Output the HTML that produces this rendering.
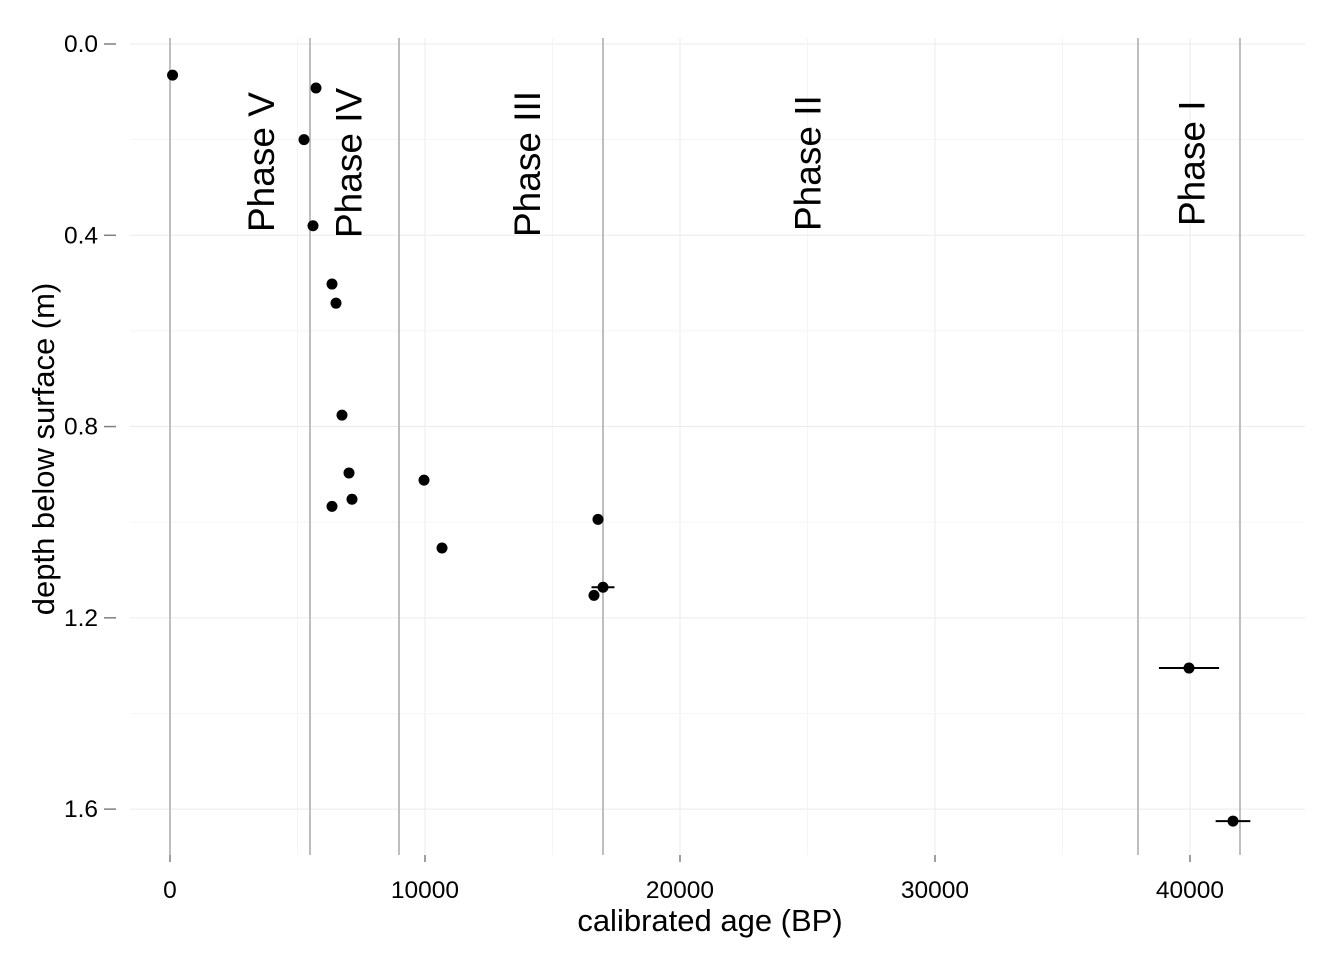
<!DOCTYPE html>
<html><head><meta charset="utf-8"><style>
body{margin:0;background:#fff}
svg{display:block;font-family:"Liberation Sans",sans-serif}
</style></head><body>
<svg id="chart" width="1344" height="960"></svg>
<script>
const ages=[100,5725,5255,5608,6353,6510,6745,7020,7137,6353,9961,10667,16784,16980,16627,39961,41686];
const depths=[0.065,0.092,0.2,0.38,0.502,0.542,0.776,0.897,0.952,0.967,0.912,1.054,0.994,1.136,1.153,1.305,1.625];
const errs=[0,0,0,0,0,0,0,0,0,0,0,0,0,450,0,1180,680];
const boundaries=[0,5490,8980,16980,37960,41960];
const phaseNames=["Phase V","Phase IV","Phase III","Phase II","Phase I"];
const phaseAges=[3560,7000,14000,25000,40050];
const xTicks=[0,10000,20000,30000,40000];
const yTicks=[0.0,0.4,0.8,1.2,1.6];
const svg=document.getElementById('chart');
const NS='http://www.w3.org/2000/svg';
const X=a=>170+a*0.0255;
const Y=d=>44+d*478.2;
const labelBottoms=[232,238,237,231,226];
function mk(t,at){const e=document.createElementNS(NS,t);for(const k in at)e.setAttribute(k,at[k]);svg.appendChild(e);return e;}
for(let a=-5000;a<=45000;a+=5000){if(X(a)<130||X(a)>1305)continue;
 const g=mk('line',{x1:X(a),x2:X(a),y1:38,y2:855,stroke:a%10000?'#f5f5f5':'#ebebeb','stroke-width':1});
 
 }
for(let d=0;d<=1.7;d+=0.2){const dd=Math.round(d*10)/10;
 const g=mk('line',{x1:130,x2:1305,y1:Y(dd),y2:Y(dd),stroke:(Math.round(dd*10)%4)?'#f5f5f5':'#ebebeb','stroke-width':1});
 
 }
boundaries.forEach(b=>{const l=mk('line',{x1:X(b),x2:X(b),y1:38,y2:855,stroke:'#bebebe','stroke-width':2});
 
 });
phaseNames.forEach((p,i)=>{const t=mk('text',{x:0,y:0,transform:`translate(${X(phaseAges[i])+13},${labelBottoms[i]}) rotate(-90)`,'font-size':37,fill:'#000'});t.textContent=p;
 
 });
ages.forEach((a,i)=>{
 if(errs[i]){const e=mk('line',{x1:X(a-errs[i]),x2:X(a+errs[i]),y1:Y(depths[i]),y2:Y(depths[i]),stroke:'#000','stroke-width':2});
  
  }
 const c=mk('circle',{cx:X(a),cy:Y(depths[i]),r:5.5,fill:'#000'});
 
 });
xTicks.forEach(v=>{mk('line',{x1:X(v),x2:X(v),y1:855,y2:862,stroke:'#7f7f7f','stroke-width':1.5});
 const t=mk('text',{x:X(v),y:898,'text-anchor':'middle','font-size':24.5,fill:'#000'});t.textContent=v;
 
 });
yTicks.forEach(v=>{mk('line',{x1:104,x2:116,y1:Y(v),y2:Y(v),stroke:'#7f7f7f','stroke-width':1.5});
 const t=mk('text',{x:98,y:Y(v)+8,'text-anchor':'end','font-size':24.5,fill:'#000'});t.textContent=v.toFixed(1);
 
 });
const xt=mk('text',{x:710,y:931,'text-anchor':'middle','font-size':31,fill:'#000'});xt.textContent='calibrated age (BP)';


const yt=mk('text',{x:0,y:0,transform:'translate(54,449) rotate(-90)','text-anchor':'middle','font-size':31,fill:'#000'});yt.textContent='depth below surface (m)';


</script>
</body></html>
